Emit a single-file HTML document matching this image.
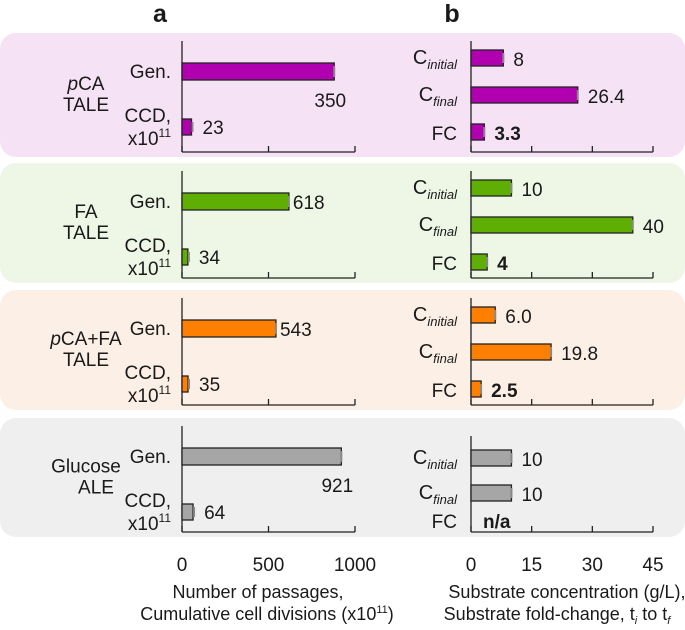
<!DOCTYPE html>
<html><head><meta charset="utf-8"><style>
html,body{margin:0;padding:0;background:#fff;}
svg{display:block;font-family:"Liberation Sans",sans-serif;}
</style></head><body>
<svg id="chart" width="685" height="630" viewBox="0 0 685 630"></svg>
<script>
const groups = ["pCA TALE","FA TALE","pCA+FA TALE","Glucose ALE"];
const genValues = [880, 618, 543, 921];
const genLabels = ["350","618","543","921"];
const ccdValues = [55, 34, 35, 64];
const ccdLabels = ["23","34","35","64"];
const cInitial = [8, 10, 6.0, 10];
const cFinal = [26.4, 40, 19.8, 10];
const fcValues = [3.3, 4, 2.5, null];
const cInitialLabels = ["8","10","6.0","10"];
const cFinalLabels = ["26.4","40","19.8","10"];
const fcLabels = ["3.3","4","2.5","n/a"];
const aTicks = [0, 500, 1000];
const bTicks = [0, 15, 30, 45];

const FS = 19;
const colors = ["#b000b0","#5eae04","#ff7f00","#a6a6a6"];
const bgs = ["#f6e2f5","#eef6e6","#fcf0e6","#efefef"];
const panelTop = [33,163,290,418];
const panelH = [124,120,120,119];
const NS = "http://www.w3.org/2000/svg";
const svg = document.getElementById('chart');
function ax(v){return 182 + v*(355-182)/1000;}
function bx(v){return 471 + v*(653-471)/45;}
function mk(tag, attrs, parent){const e=document.createElementNS(NS,tag);for(const k in attrs)e.setAttribute(k,attrs[k]);(parent||svg).appendChild(e);return e;}
function txt(x,y,s,anchor,size,weight,parent){const t=mk('text',{x:x,y:y,'text-anchor':anchor||'start','font-size':size||FS,'font-weight':weight||'normal',fill:'#1a1a1a'},parent);t.textContent=s;return t;}

let t=txt(160,22,"a","middle",25,"bold");


t=txt(452,22,"b","middle",25,"bold");



groups.forEach((g,i)=>{
  const top=panelTop[i], h=panelH[i];
  const G=mk('g',{});
  
  
  const bg=mk('rect',{x:0,y:top,width:685,height:h,rx:16,fill:bgs[i]},G);
  
  
  const parts=g.split(' ');
  const gl=mk('text',{x:86,y:top+h/2-5,'text-anchor':'middle','font-size':FS,fill:'#1a1a1a'},G);
  
  
  let first=parts[0];
  if(first[0]==='p'){const s1=mk('tspan',{'font-style':'italic'},gl);s1.textContent='p';const s2=mk('tspan',{},gl);s2.textContent=first.slice(1);}
  else {const s2=mk('tspan',{},gl);s2.textContent=first;}
  const s3=mk('tspan',{x:86+(i===3?10:0),dy:21},gl);s3.textContent=parts[1];
  const yTop=top+8, yBot=top+h-5;
  mk('line',{x1:182,y1:yTop,x2:182,y2:yBot,stroke:'#222','stroke-width':1.3},G);
  mk('line',{x1:182,y1:yBot,x2:355,y2:yBot,stroke:'#222','stroke-width':1.3},G);
  aTicks.forEach(v=>mk('line',{x1:ax(v),y1:yBot,x2:ax(v),y2:yBot-6,stroke:'#222','stroke-width':1.3},G));
  const genY=top+30, ccdY=top+86;
  let r=mk('rect',{x:ax(0),y:genY,width:ax(genValues[i])-ax(0),height:17,fill:colors[i],stroke:'#222','stroke-width':1.3},G);
  
  
  mk('line',{x1:ax(genValues[i]),y1:genY+3,x2:ax(genValues[i]),y2:genY+14,stroke:'#888','stroke-width':2},G);
  r=mk('rect',{x:ax(0),y:ccdY,width:ax(ccdValues[i])-ax(0),height:16,fill:colors[i],stroke:'#222','stroke-width':1.3},G);
  
  
  mk('line',{x1:ax(ccdValues[i])+1,y1:ccdY+3,x2:ax(ccdValues[i])+1,y2:ccdY+13,stroke:'#888','stroke-width':2},G);
  const glab = (i===0||i===3) ? txt(ax(genValues[i])-4,genY+44,genLabels[i],'middle',FS,'normal',G) : txt(ax(genValues[i])+4,genY+16,genLabels[i],'start',FS,'normal',G);
  
  
  const clab=txt(ax(ccdValues[i])+11,ccdY+15,ccdLabels[i],'start',FS,'normal',G);
  
  
  txt(171,genY+15,"Gen.",'end',FS,'normal',G);
  txt(171,ccdY+3,"CCD,",'end',FS,'normal',G);
  const xl=mk('text',{x:171,y:ccdY+26,'text-anchor':'end','font-size':FS,fill:'#1a1a1a'},G);
  const a1=mk('tspan',{},xl);a1.textContent='x10';const a2=mk('tspan',{'font-size':12,dy:-8},xl);a2.textContent='11';
  const bTop=top+(i===3?18:8);
  mk('line',{x1:471,y1:bTop,x2:471,y2:yBot,stroke:'#222','stroke-width':1.3},G);
  mk('line',{x1:471,y1:yBot,x2:653,y2:yBot,stroke:'#222','stroke-width':1.3},G);
  bTicks.forEach(v=>mk('line',{x1:bx(v),y1:yBot,x2:bx(v),y2:yBot-6,stroke:'#222','stroke-width':1.3},G));
  const rows=[[cInitial[i],cInitialLabels[i],'initial'],[cFinal[i],cFinalLabels[i],'final'],[fcValues[i],fcLabels[i],'FC']];
  const rowY=i===3?[top+32,top+67,top+94]:[top+17,top+54,top+91];
  rows.forEach((rw,j)=>{
    const y=rowY[j];
    if(rw[0]!==null){
      const b=mk('rect',{x:bx(0),y:y,width:bx(rw[0])-bx(0),height:16,fill:colors[i],stroke:'#222','stroke-width':1.3},G);
      
      
      mk('line',{x1:bx(rw[0]),y1:y+3,x2:bx(rw[0]),y2:y+13,stroke:'#888','stroke-width':2},G);
    }
    const lx=rw[0]===null?bx(0)+12:bx(rw[0])+10;
    const vl=txt(lx,y+16,rw[1],'start',FS,j===2?'bold':'normal',G);
    
    
    if(j===2){txt(457,y+16,"FC",'end',FS,'normal',G);}
    else{
      const c=mk('text',{x:457,y:y+14,'text-anchor':'end','font-size':FS+1,fill:'#1a1a1a'},G);
      const c1=mk('tspan',{},c);c1.textContent='C';
      const c2=mk('tspan',{'font-size':13,'font-style':'italic',dy:5},c);c2.textContent=rw[2];
    }
  });
});
aTicks.forEach(v=>{const l=txt(ax(v),571,String(v),'middle',FS);
  
  });
bTicks.forEach(v=>{const l=txt(bx(v),571,String(v),'middle',FS);
  
  });
let ta=txt(258,598,"Number of passages,",'middle',18);


const ta2=mk('text',{x:267,y:620,'text-anchor':'middle','font-size':18,fill:'#1a1a1a'});


let s=mk('tspan',{},ta2);s.textContent='Cumulative cell divisions (x10';
s=mk('tspan',{'font-size':11,dy:-7},ta2);s.textContent='11';
s=mk('tspan',{dy:7},ta2);s.textContent=')';
let tb=txt(567,598,"Substrate concentration (g/L),",'middle',18);


const tb2=mk('text',{x:557,y:620,'text-anchor':'middle','font-size':18,fill:'#1a1a1a'});


s=mk('tspan',{},tb2);s.textContent='Substrate fold-change, t';
s=mk('tspan',{'font-size':11,'font-style':'italic',dy:4},tb2);s.textContent='i';
s=mk('tspan',{dy:-4},tb2);s.textContent=' to t';
s=mk('tspan',{'font-size':11,'font-style':'italic',dy:4},tb2);s.textContent='f';
</script>
</body></html>
